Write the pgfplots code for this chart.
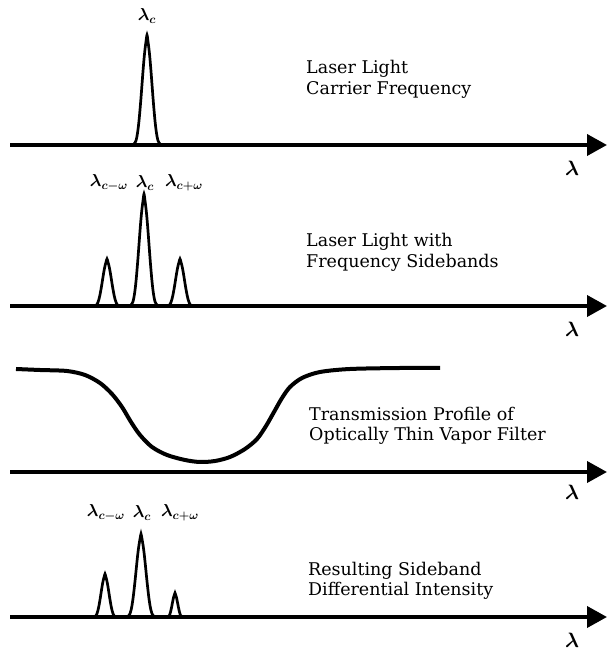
\documentclass[border=0pt]{standalone}
\usepackage{fontspec}
\setmainfont{DejaVu Serif}
\usepackage{pgfplots}
\usepackage{pgfplotstable}
\pgfplotsset{compat=1.18}
\usetikzlibrary{arrows.meta}

% normalised line shape of one peak (dx in px, f = fraction of peak height)
\pgfplotstableread{
dx f
-14 0
-12 0.02
-11 0.04
-10 0.08
-9 0.14
-8 0.22
-7 0.32
-6 0.43
-5 0.55
-4 0.67
-3 0.78
-2 0.87
-1 0.94
0 1
1 0.94
2 0.87
3 0.78
4 0.67
5 0.55
6 0.43
7 0.32
8 0.22
9 0.14
10 0.08
11 0.04
12 0.02
14 0
}\peak

% transmission profile of the vapor filter
\pgfplotstableread{
x y
16 103
40 102
67 101
85 97
100 89
112 78
122 65
131 50
140 37
152 25
167 17
185 12
200 10
215 11
230 15
245 23
257 33
266 46
274 60
282 74
290 85
302 94
320 100
350 103
400 104
440 104
}\filter

\pgfplotsset{
  panel/.style={
    x=1pt, y=1pt, xmin=10, xmax=607, ymin=0, ymax=125,
    axis x line=bottom, axis y line=none,
    xtick=\empty, ytick=\empty,
    x axis line style={line width=3.8pt, -{Triangle[length=20pt,width=21pt]}},
    clip=false, anchor=south west,
  },
  pk/.style={black, line width=2.7pt, smooth, no marks},
}
\tikzset{
  txt/.style={anchor=west, font=\fontsize{17.5}{20}\selectfont, inner sep=0pt},
  lam/.style={font=\fontsize{21}{21}\selectfont\boldmath},
  plab/.style={font=\fontsize{18}{18}\selectfont\boldmath},
}

\begin{document}
\begin{tikzpicture}
\useasboundingbox (0,0) rectangle (607pt,652pt);

% panel 1: carrier
\begin{axis}[panel, at={(10pt,{652pt-145pt})}]
  \addplot[pk] table[x expr=\thisrow{dx}+147, y expr=110*\thisrow{f}] {\peak};
  \node[plab] at (axis cs:147,129) {$\lambda_c$};
  \node[txt] at (axis cs:306,76) {Laser Light};
  \node[txt] at (axis cs:306,55) {Carrier Frequency};
  \node[lam] at (axis cs:572,-23) {$\lambda$};
\end{axis}

% panel 2: carrier with sidebands
\begin{axis}[panel, at={(10pt,{652pt-306pt})}]
  \addplot[pk] table[x expr=0.9*\thisrow{dx}+107, y expr=47*\thisrow{f}] {\peak};
  \addplot[pk] table[x expr=\thisrow{dx}+144, y expr=112*\thisrow{f}] {\peak};
  \addplot[pk] table[x expr=0.9*\thisrow{dx}+180, y expr=47*\thisrow{f}] {\peak};
  \node[plab] at (axis cs:109,123) {$\lambda_{c-\omega}$};
  \node[plab] at (axis cs:145,123) {$\lambda_c$};
  \node[plab] at (axis cs:184,123) {$\lambda_{c+\omega}$};
  \node[txt] at (axis cs:306,64) {Laser Light with};
  \node[txt] at (axis cs:306,43) {Frequency Sidebands};
  \node[lam] at (axis cs:572,-23) {$\lambda$};
\end{axis}

% panel 3: filter transmission
\begin{axis}[panel, at={(10pt,{652pt-472pt})}]
  \addplot[black, line width=4pt, smooth, no marks] table {\filter};
  \node[txt] at (axis cs:309,58) {Transmission Profile of};
  \node[txt] at (axis cs:309,36) {Optically Thin Vapor Filter};
  \node[lam] at (axis cs:572,-20) {$\lambda$};
\end{axis}

% panel 4: resulting intensity
\begin{axis}[panel, at={(10pt,{652pt-617pt})}]
  \addplot[pk] table[x expr=0.8*\thisrow{dx}+105, y expr=43*\thisrow{f}] {\peak};
  \addplot[pk] table[x expr=\thisrow{dx}+141, y expr=83*\thisrow{f}] {\peak};
  \addplot[pk] table[x expr=0.55*\thisrow{dx}+175, y expr=24*\thisrow{f}] {\peak};
  \node[plab] at (axis cs:106,104) {$\lambda_{c-\omega}$};
  \node[plab] at (axis cs:142,104) {$\lambda_c$};
  \node[plab] at (axis cs:180,104) {$\lambda_{c+\omega}$};
  \node[txt] at (axis cs:308,46) {Resulting Sideband};
  \node[txt] at (axis cs:308,26) {Differential Intensity};
  \node[lam] at (axis cs:572,-23) {$\lambda$};
\end{axis}
\end{tikzpicture}
\end{document}
